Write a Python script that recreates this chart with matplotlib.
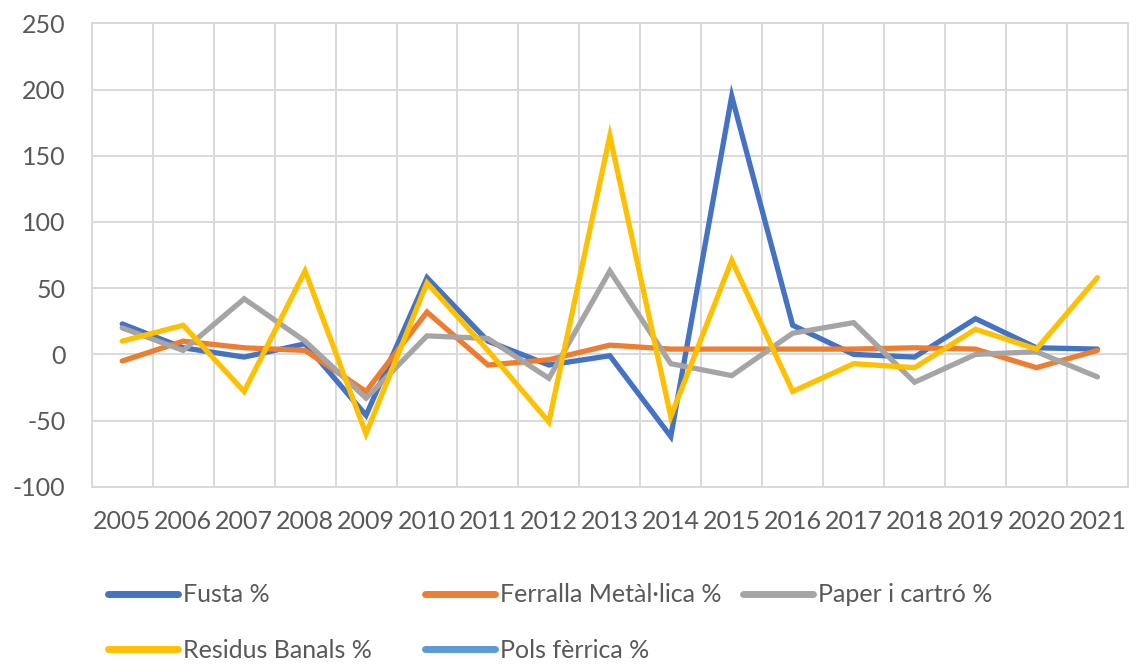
import matplotlib
matplotlib.use("Agg")
import matplotlib.pyplot as plt
from matplotlib.lines import Line2D
import numpy as np

years = ["2005", "2006", "2007", "2008", "2009", "2010", "2011", "2012", "2013",
         "2014", "2015", "2016", "2017", "2018", "2019", "2020", "2021"]
fusta = [23, 5, -2, 8, -46, 58, 10, -8, -1, -62, 195, 22, 0, -2, 27, 5, 4]
ferralla = [-5, 10, 5, 3, -28, 32, -8, -4, 7, 4, 4, 4, 4, 5, 4, -10, 3]
paper = [20, 3, 42, 10, -33, 14, 12, -18, 63, -7, -16, 16, 24, -21, 0, 2, -17]
residus = [10, 22, -28, 63, -60, 54, 3, -51, 165, -47, 71, -28, -7, -10, 19, 4, 58]
pols = [np.nan] * len(years)

series_names = ["Fusta %", "Ferralla Metàl·lica %", "Paper i cartró %",
                "Residus Banals %", "Pols fèrrica %"]
series_values = [fusta, ferralla, paper, residus, pols]
colors = ["#4472C4", "#ED7D31", "#A5A5A5", "#FFC000", "#5B9BD5"]

plt.rcParams['font.family'] = ['Lato', 'DejaVu Sans']
plt.rcParams['axes.unicode_minus'] = False
txt_color = "#595959"
grid_color = "#D9D9D9"

fig = plt.figure(figsize=(11.37, 6.66), dpi=100)
ax = fig.add_axes([0.0807, 0.269, 0.9113, 0.696])

x = np.arange(len(years))
handles = []
for name, vals, c in zip(series_names, series_values, colors):
    h, = ax.plot(x, vals, color=c, linewidth=3.8, solid_joinstyle='miter',
                 solid_capstyle='round', label=name, zorder=3)
    handles.append(h)

ax.set_xlim(-0.5, len(years) - 0.5)
ax.set_ylim(-100, 250)
ax.set_yticks(np.arange(-100, 251, 50))
ax.set_xticks(x)
ax.set_xticklabels(years)
ax.set_xticks(np.arange(-0.5, len(years), 1), minor=True)

ax.grid(True, axis='y', which='major', color=grid_color, linewidth=1.4, zorder=0)
ax.grid(True, axis='x', which='minor', color=grid_color, linewidth=1.4, zorder=0)
ax.grid(False, axis='x', which='major')
for s in ax.spines.values():
    s.set_color(grid_color)
    s.set_linewidth(1.4)

ax.tick_params(axis='both', which='both', length=0, labelsize=18, labelcolor=txt_color)
ax.tick_params(axis='y', pad=19)
ax.tick_params(axis='x', pad=17)

# legend: fixed-width columns like the original
leg_pos = [(108, 595), (425, 595), (743, 595), (108, 650), (425, 650)]
W, H = 1137, 666
for h, name, (px, py) in zip(handles, series_names, leg_pos):
    lh = Line2D([], [], color=h.get_color(), linewidth=5, solid_capstyle='round')
    fig.legend(handles=[lh], labels=[name], loc='center left',
               bbox_to_anchor=(px / W, 1 - py / H), frameon=False,
               handlelength=2.8, handletextpad=0.2, borderpad=0,
               borderaxespad=0, fontsize=18, labelcolor=txt_color)

fig.savefig("out.png", dpi=100)
